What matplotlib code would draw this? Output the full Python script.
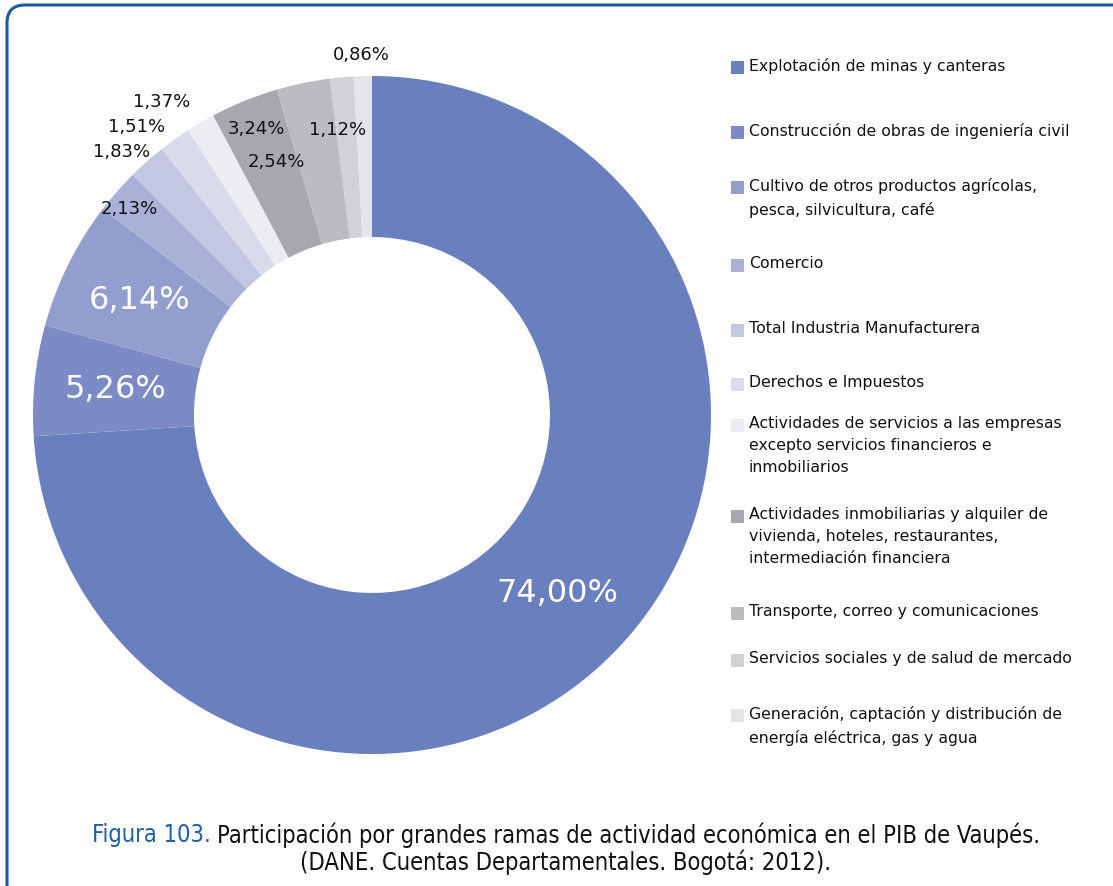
import matplotlib
matplotlib.use("Agg")
import matplotlib.pyplot as plt
from matplotlib.patches import FancyBboxPatch, Rectangle

# Shares of GDP by economic branch (%), clockwise from 12 o'clock
categories = [
    "Explotación de minas y canteras",
    "Construcción de obras de ingeniería civil",
    "Cultivo de otros productos agrícolas,\npesca, silvicultura, café",
    "Comercio",
    "Total Industria Manufacturera",
    "Derechos e Impuestos",
    "Actividades de servicios a las empresas\nexcepto servicios financieros e\ninmobiliarios",
    "Actividades inmobiliarias y alquiler de\nvivienda, hoteles, restaurantes,\nintermediación financiera",
    "Transporte, correo y comunicaciones",
    "Servicios sociales y de salud de mercado",
    "Generación, captación y distribución de\nenergía eléctrica, gas y agua",
]
shares = [74.00, 5.26, 6.14, 2.13, 1.83, 1.51, 1.37, 3.24, 2.54, 1.12, 0.86]
colors = ["#6a7fbd", "#7c8bc5", "#929ecd", "#a9b1d6", "#c3c7e2", "#d9dbea",
          "#ececf3", "#a6a8ad", "#bbbcc0", "#d1d2d5", "#e4e5e8"]

W, H = 1113, 886
fig = plt.figure(figsize=(W / 100, H / 100), dpi=100)
ax = fig.add_axes([0, 0, 1, 1])

# Rounded frame around the figure
frame = FancyBboxPatch((7, -40), W + 80, H + 40 - 5,
                       boxstyle="round,pad=0,rounding_size=18",
                       fc="none", ec="#1f5a9e", lw=2.2, clip_on=False)
ax.add_patch(frame)

cx, cy, R = 372, H - 415, 339
wedges, _ = ax.pie(shares, colors=colors, startangle=90, counterclock=False,
                   center=(cx, cy), radius=R, frame=True,
                   wedgeprops=dict(width=R * 0.475, edgecolor="none"))
ax.set_xlim(0, W)
ax.set_ylim(0, H)
ax.set_aspect("equal")
ax.axis("off")

# Value labels: (x, y in px from top, size, colour)
label_pos = [
    (557, 593, 23, "white"),
    (115, 389, 23, "white"),
    (140, 300, 23, "white"),
    (129, 209, 13, "#111111"),
    (122, 152, 13, "#111111"),
    (137, 127, 13, "#111111"),
    (162, 102, 13, "#111111"),
    (256, 129, 13, "#111111"),
    (276, 162, 13, "#111111"),
    (338, 130, 13, "#111111"),
    (361, 55, 13, "#111111"),
]
for v, (x, y, fs, c) in zip(shares, label_pos):
    ax.text(x, H - y, f"{v:.2f}".replace(".", ",") + "%", fontsize=fs, color=c,
            ha="center", va="center", family="DejaVu Sans")

# Legend
leg_y = [67, 132, 187, 265, 330, 384, 425, 516, 613, 660, 715]
for lab, c, y in zip(categories, colors, leg_y):
    ax.add_patch(Rectangle((731, H - y - 6.5), 13, 13, fc=c, ec="none"))
    ax.text(749, H - y + 9, lab, fontsize=11.3, color="#111111", ha="left",
            va="top", linespacing=1.6, family="DejaVu Sans")

# Caption
cap_kw = dict(fontsize=17, ha="left", va="center", fontstretch="condensed",
              family="DejaVu Sans")
t1 = ax.text(0, H - 835, "Figura 103. ", color="#1f5fa5", **cap_kw)
t2 = ax.text(0, H - 835, "Participación por grandes ramas de actividad económica en el PIB de Vaupés.",
             color="#111111", **cap_kw)
fig.canvas.draw()
r = fig.canvas.get_renderer()
w1 = t1.get_window_extent(r).width
w2 = t2.get_window_extent(r).width
x0 = 566 - (w1 + w2) / 2
t1.set_x(x0)
t2.set_x(x0 + w1)
ax.text(566, H - 862, "(DANE. Cuentas Departamentales. Bogotá: 2012).",
        color="#111111", fontsize=17, ha="center", va="center",
        fontstretch="condensed", family="DejaVu Sans")

fig.savefig("out.png", dpi=100, facecolor="white")
